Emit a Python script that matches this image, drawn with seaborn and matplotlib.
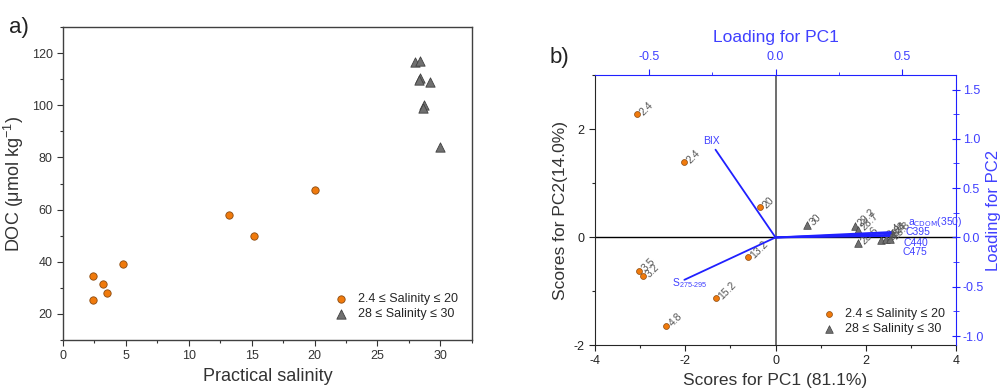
import numpy as np
import pandas as pd
import seaborn as sns
import matplotlib.pyplot as plt
from matplotlib.ticker import MultipleLocator

# panel a: DOC vs salinity
sal_low = [2.4, 2.4, 3.2, 3.5, 4.8, 13.2, 15.2, 20.0]
doc_low = [34.5, 25.5, 31.5, 28.0, 39.0, 58.0, 50.0, 67.5]
sal_high = [28.0, 28.4, 28.4, 28.3, 29.2, 28.7, 28.6, 30.0]
doc_high = [116.5, 117.0, 110.5, 109.5, 109.0, 100.0, 99.0, 84.0]

# panel b: PCA scores
pc1_low = [-3.07, -2.03, -0.35, -0.61, -3.02, -2.93, -1.33, -2.42]
pc2_low = [2.28, 1.39, 0.56, -0.37, -0.62, -0.73, -1.13, -1.64]
lab_low = ["2.4", "2.4", "20", "13.2", "3.5", "3.2", "15.2", "4.8"]
pc1_high = [0.70, 1.77, 1.82, 1.83, 2.33, 2.44, 2.54, 2.58]
pc2_high = [0.23, 0.21, 0.14, -0.11, -0.05, -0.04, -0.03, 0.08]
lab_high = ["30", "29.2", "28.7", "28.6", "28.4", "28.4", "28.3", "28"]

# loadings
load_names = ["BIX", r"S$_{275\text{-}295}$", r"a$_{\mathrm{CDOM}}$(350)", "C395", "C440", "C475"]
load_pc1 = [-0.237, -0.36, 0.455, 0.455, 0.45, 0.45]
load_pc2 = [0.89, -0.43, 0.055, 0.04, 0.025, 0.015]
load_offsets = [(-4, 9), (-12, -3), (17, 10), (15, 1), (14, -8), (13, -16)]
load_ha = ["center", "left", "left", "left", "left", "left"]

leg_low = "2.4 ≤ Salinity ≤ 20"
leg_high = "28 ≤ Salinity ≤ 30"

orange = "#f07a0c"
gray = "#707070"
blue = "#2020ff"
tblue = "#4040ff"

sns.set_style("ticks")
plt.rcParams['font.family'] = ['Liberation Sans', 'DejaVu Sans']
plt.rcParams['mathtext.default'] = 'regular'
plt.rcParams['axes.unicode_minus'] = False
plt.rcParams['xtick.labelsize'] = 9
plt.rcParams['ytick.labelsize'] = 9

fig = plt.figure(figsize=(10.02, 3.91), dpi=100)

# ---------- a) ----------
ax = fig.add_axes([0.0629, 0.1304, 0.408, 0.8005])
sns.scatterplot(x=sal_low, y=doc_low, ax=ax, marker="o", color=orange,
                edgecolor="#8a4a10", linewidth=0.6, s=28, label=leg_low)
sns.scatterplot(x=sal_high, y=doc_high, ax=ax, marker="^", color=gray,
                edgecolor="#404040", linewidth=0.6, s=45, label=leg_high)
ax.set_xlim(0, 32.5)
ax.set_ylim(10, 130)
ax.xaxis.set_major_locator(MultipleLocator(5))
ax.xaxis.set_minor_locator(MultipleLocator(2.5))
ax.yaxis.set_minor_locator(MultipleLocator(10))
ax.set_yticks([20, 40, 60, 80, 100, 120])
for s in ax.spines.values():
    s.set_color("#404040")
    s.set_linewidth(1.0)
ax.tick_params(colors="#333333", length=4, width=0.8)
ax.tick_params(which="minor", length=2.5, width=0.8, colors="#333333")
ax.set_xlabel("Practical salinity", fontsize=13, color="#333333")
ax.set_ylabel("DOC (μmol kg$^{-1}$)", fontsize=13, color="#333333")
ax.legend(loc="lower right", bbox_to_anchor=(0.985, 0.04), frameon=False,
          fontsize=9, handletextpad=0.35, labelspacing=0.2, borderaxespad=0.2)
fig.text(0.009, 0.915, "a)", fontsize=16, color="#222222")

# ---------- b) ----------
rect_b = [0.594, 0.1176, 0.360, 0.690]
axb = fig.add_axes(rect_b)
axb.axhline(0, color="black", lw=1.0, zorder=1)
axb.axvline(0, color="#555555", lw=1.2, zorder=1)
sns.scatterplot(x=pc1_low, y=pc2_low, ax=axb, marker="o", color=orange,
                edgecolor="#8a4a10", linewidth=0.5, s=18, label=leg_low, zorder=3)
sns.scatterplot(x=pc1_high, y=pc2_high, ax=axb, marker="^", color=gray,
                edgecolor="#404040", linewidth=0.5, s=30, label=leg_high, zorder=3)
for x, y, t in zip(pc1_low + pc1_high, pc2_low + pc2_high, lab_low + lab_high):
    axb.annotate(t, (x, y), xytext=(3.2, 0.3), textcoords="offset points",
                 rotation=45, fontsize=7.5, color="#555555", ha="left", va="center",
                 rotation_mode="anchor")
axb.set_xlim(-4, 4)
axb.set_ylim(-2, 3)
axb.xaxis.set_major_locator(MultipleLocator(2))
axb.xaxis.set_minor_locator(MultipleLocator(1))
axb.set_yticks([-2, 0, 2])
axb.yaxis.set_minor_locator(MultipleLocator(1))
axb.spines["top"].set_visible(False)
axb.spines["right"].set_visible(False)
axb.tick_params(colors="#222222", length=4, width=0.8)
axb.tick_params(which="minor", length=2.5, width=0.8)
axb.set_xlabel("Scores for PC1 (81.1%)", fontsize=12.5, color="#333333")
axb.set_ylabel("Scores for PC2(14.0%)", fontsize=12.5, color="#333333")
axb.legend(loc="lower right", bbox_to_anchor=(0.99, 0.01), frameon=False,
           fontsize=9, handletextpad=0.3, labelspacing=0.2, borderaxespad=0.2)

# loading axes on top/right
axl = fig.add_axes(rect_b, facecolor="none")
axl.set_xlim(-0.712, 0.712)
axl.set_ylim(-1.091, 1.645)
for x, y, t, off, ha in zip(load_pc1, load_pc2, load_names, load_offsets, load_ha):
    axl.plot([0, x], [0, y], color=blue, lw=1.3)
    axl.annotate(t, (x, y), xytext=off, textcoords="offset pixels", ha=ha,
                 va="center", fontsize=7.5, color=tblue)
axl.xaxis.tick_top()
axl.xaxis.set_label_position("top")
axl.yaxis.tick_right()
axl.yaxis.set_label_position("right")
axl.xaxis.set_minor_locator(MultipleLocator(0.25))
axl.yaxis.set_major_locator(MultipleLocator(0.5))
axl.yaxis.set_minor_locator(MultipleLocator(0.25))
axl.set_xticks([-0.5, 0.0, 0.5])
axl.xaxis.set_major_formatter(plt.FormatStrFormatter("%.1f"))
axl.yaxis.set_major_formatter(plt.FormatStrFormatter("%.1f"))
axl.spines["left"].set_visible(False)
axl.spines["bottom"].set_visible(False)
axl.spines["top"].set_color(blue)
axl.spines["right"].set_color(blue)
axl.tick_params(axis="x", colors=blue, labelcolor=tblue, length=4, width=0.8, pad=5)
axl.tick_params(axis="y", colors=blue, labelcolor=tblue, length=6, width=0.8,
                direction="inout", pad=2)
axl.tick_params(axis="x", which="minor", colors=blue, length=2.5)
axl.tick_params(axis="y", which="minor", colors=blue, length=4, direction="inout")
axl.set_xlabel("Loading for PC1", fontsize=12.5, color=tblue, labelpad=6)
axl.set_ylabel("Loading for PC2", fontsize=12, color=tblue, labelpad=1)
fig.text(0.548, 0.838, "b)", fontsize=16, color="#222222")

fig.savefig("out.png", dpi=100)
